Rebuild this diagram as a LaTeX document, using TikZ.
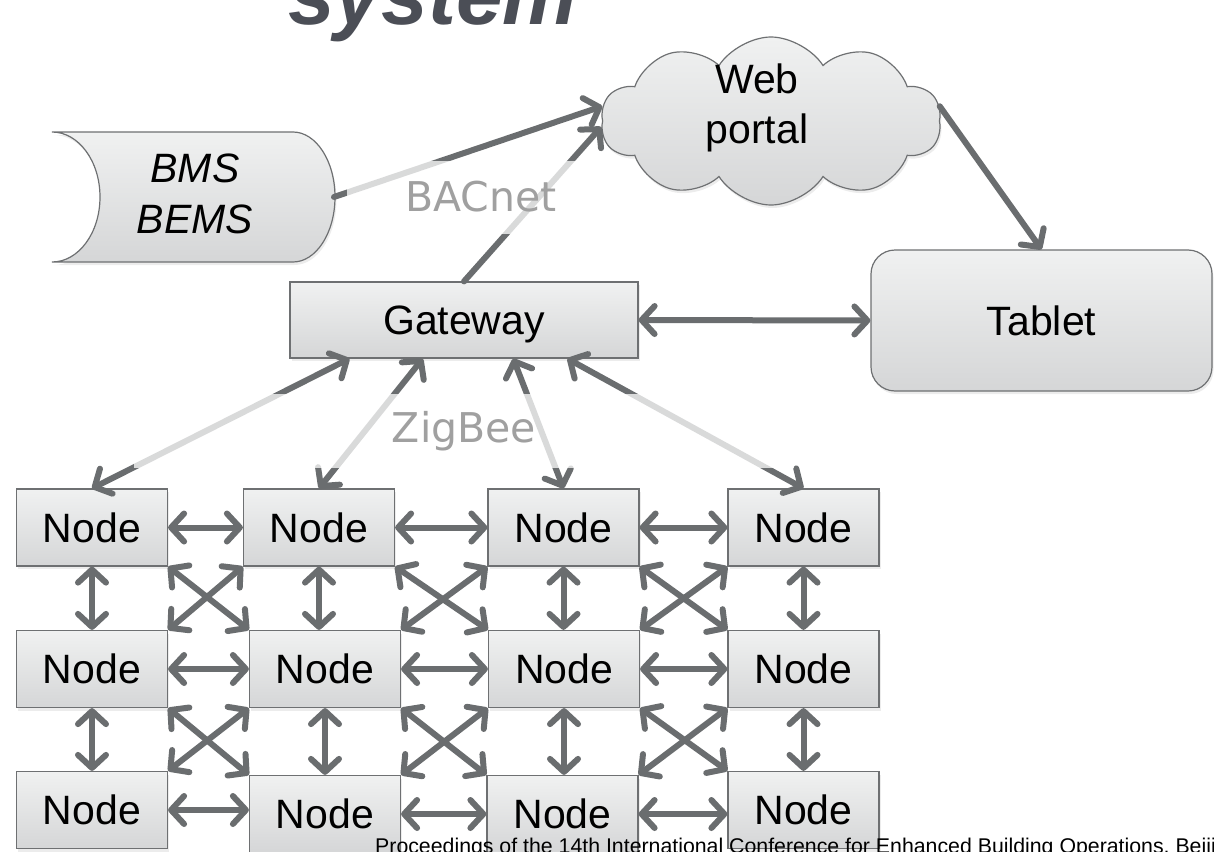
\documentclass[tikz,border=0pt]{standalone}
\usepackage{fontspec}
\setmainfont{Liberation Sans}
\newfontfamily\labelfont{DejaVu Sans}
\usetikzlibrary{arrows.meta,shapes.symbols,shadows,calc}

\definecolor{edgegray}{HTML}{6E7072}
\definecolor{linkgray}{HTML}{6A6D6F}
\definecolor{boxtop}{HTML}{F0F1F1}
\definecolor{boxbot}{HTML}{D5D6D7}
\definecolor{titlegray}{HTML}{4B4E56}
\definecolor{netlabel}{HTML}{A0A0A0}

\tikzset{
  shadowed/.style={drop shadow={shadow xshift=1.5pt, shadow yshift=-3pt, opacity=0.15}},
  box/.style={draw=edgegray, line width=1.2pt, top color=boxtop, bottom color=boxbot,
    shadowed, inner sep=0pt, font=\fontsize{41}{50}\selectfont,
    text height=29.5pt, text depth=0pt},
  gridnode/.style={box, minimum width=151pt, minimum height=77pt},
  link/.style={draw=linkgray, line width=6pt, line cap=round},
  twoway/.style={link, {Straight Barb[length=13pt,width=28pt,round]}-{Straight Barb[length=13pt,width=28pt,round]}},
  oneway/.style={link, -{Straight Barb[length=13pt,width=28pt,round]}},
  band/.style={fill=white, fill opacity=0.75, text opacity=1, text=netlabel,
    inner sep=0pt, font=\labelfont\fontsize{41}{46}\selectfont},
}

\begin{document}
\begin{tikzpicture}[x=1pt, y=-1pt]
  \path[use as bounding box] (0,0) rectangle (1214,851);
  \clip (0,0) rectangle (1214,851);

  % heading, cut by the top edge
  \node[anchor=base west, inner sep=0pt, text=titlegray,
        font=\fontsize{84}{90}\selectfont\bfseries\itshape] (title) at (288,25) {system};

  % stored-data shape for the building management systems
  \path[box] (52,132) -- (293,132)
    .. controls (316,132) and (335,161) .. (335,197)
    .. controls (335,233) and (316,262) .. (293,262)
    -- (52,262)
    .. controls (78.5,262) and (100,233) .. (100,197)
    .. controls (100,161) and (78.5,132) .. (52,132) -- cycle;
  \node[align=center, inner sep=0pt, font=\fontsize{41}{51}\selectfont\itshape] (bms) at (195,194) {BMS\\BEMS};
  \coordinate (bmsout) at (334,197);

  % web portal cloud
  \node[box, cloud, cloud puffs=10, cloud puff arc=115, aspect=2,
        minimum width=340pt, minimum height=168pt] (web) at (771,121) {};
  \node[align=center, inner sep=0pt, font=\fontsize{41}{50}\selectfont] (webtext) at (757,108) {Web\\portal};

  % gateway and tablet
  \node[box, minimum width=348pt, minimum height=76pt] (gateway) at (464,320) {Gateway};
  \node[box, rounded corners=24pt, minimum width=341pt, minimum height=141pt] (tablet) at (1041.5,320.5) {Tablet};

  % mesh of sensor nodes
  \node[gridnode] (n11) at (92,527.5) {Node};
  \node[gridnode] (n12) at (319,527.5) {Node};
  \node[gridnode] (n13) at (563.5,527.5) {Node};
  \node[gridnode] (n14) at (803.5,527.5) {Node};
  \node[gridnode] (n21) at (92,669) {Node};
  \node[gridnode] (n22) at (325,669) {Node};
  \node[gridnode] (n23) at (564,669) {Node};
  \node[gridnode] (n24) at (803.5,669) {Node};
  \node[gridnode] (n31) at (92,810) {Node};
  \node[gridnode] (n32) at (325,814) {Node};
  \node[gridnode] (n33) at (562.5,814) {Node};
  \node[gridnode] (n34) at (803.5,810) {Node};

  % upper connections
  \draw[oneway] (bmsout) -- (web.175);
  \draw[oneway] (gateway.north) -- (web.182);
  \draw[oneway] (web.5) -- (tablet.north);
  \draw[twoway] (gateway.east) -- (tablet.west);

  % gateway to the first row
  \draw[twoway] ($(gateway.south west)!0.172!(gateway.south east)$) -- (n11.north);
  \draw[twoway] ($(gateway.south west)!0.382!(gateway.south east)$) -- (n12.north);
  \draw[twoway] ($(gateway.south west)!0.641!(gateway.south east)$) -- (n13.north);
  \draw[twoway] ($(gateway.south west)!0.796!(gateway.south east)$) -- (n14.north);

  % row, column and diagonal links of the mesh
  \foreach \r in {1,2,3} {
    \foreach \c [evaluate=\c as \d using int(\c+1)] in {1,2,3} {
      \draw[twoway] (n\r\c.east) -- (n\r\c.east -| n\r\d.west);
    }
  }
  \foreach \r [evaluate=\r as \s using int(\r+1)] in {1,2} {
    \foreach \c in {1,2,3,4} {
      \draw[twoway] (n\r\c.south) -- (n\r\c.south |- n\s\c.north);
    }
    \foreach \c [evaluate=\c as \d using int(\c+1)] in {1,2,3} {
      \draw[twoway] (n\r\c.south east) -- (n\s\d.north west);
      \draw[twoway] (n\r\d.south west) -- (n\s\c.north east);
    }
  }

  % protocol labels on translucent bands
  \node[band, minimum width=268pt, minimum height=73pt] (bacnet) at (481,197) {BACnet};
  \node[band, minimum width=660pt, minimum height=74pt] (zigbee) at (464,431) {ZigBee};

  % citation line along the bottom edge, over the last row
  \node[anchor=base west, inner sep=0pt, font=\fontsize{21.3}{24}\selectfont]
    (cite) at (375,853) {Proceedings of the 14th International Conference for Enhanced Building Operations, Beijing,};
\end{tikzpicture}
\end{document}
